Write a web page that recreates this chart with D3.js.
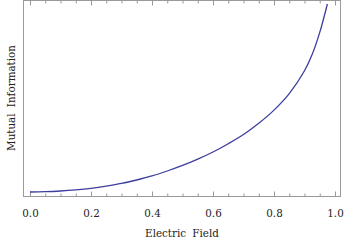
<!DOCTYPE html>
<html><head><meta charset="utf-8">
<script src="https://cdn.jsdelivr.net/npm/d3@7"></script>
<style>body{margin:0;background:#fff}svg{display:block}
text{font-stretch:condensed}</style>
</head><body>
<svg id="c" width="344" height="242"></svg>
<script>
const field = [0,0.05,0.1,0.15,0.2,0.25,0.3,0.35,0.4,0.45,0.5,0.55,0.6,0.65,0.7,0.75,0.8,0.85,0.9,0.925,0.95,0.975];
const mutualInfo = [0,0.005,0.017,0.036,0.062,0.098,0.142,0.2,0.267,0.35,0.442,0.548,0.667,0.805,0.958,1.145,1.365,1.64,2.02,2.29,2.66,3.133];
const xTicks = [0,0.2,0.4,0.6,0.8,1.0];
const xMinor = d3.range(0,1.0001,0.05);
const xLabel = "Electric Field";
const yLabel = "Mutual Information";

const svg = d3.select("#c");
const x = d3.scaleLinear().domain([0,1]).range([30,335]);
const y = d3.scaleLinear().domain([-0.0667,3.2]).range([196,0]);
const L=23.5,R=340.5,T=0.5,B=196.5;
const grey="#9a9a9a";
const FONT='"DejaVu Serif Condensed","DejaVu Serif",serif';

svg.append("rect").attr("x",L).attr("y",T).attr("width",R-L).attr("height",B-T)
  .attr("fill","none").attr("stroke",grey).attr("stroke-width",1);

function ticks(g){g.select(".domain").remove();g.selectAll("line").attr("stroke",grey);}
svg.append("g").attr("transform",`translate(0,${B})`)
  .call(d3.axisBottom(x).tickValues(xMinor).tickSize(-3).tickFormat("")).call(ticks);
svg.append("g").attr("transform",`translate(0,${B})`)
  .call(d3.axisBottom(x).tickValues(xTicks).tickSizeInner(-5).tickSizeOuter(0).tickPadding(12).tickFormat(d3.format(".1f")))
  .call(ticks)
  .call(g=>g.attr("font-family",FONT).selectAll("text").attr("font-family",FONT).attr("font-size",11.5).attr("fill","#222"));
svg.append("g").attr("transform",`translate(0,${T})`)
  .call(d3.axisTop(x).tickValues(xMinor).tickSize(-3).tickFormat("")).call(ticks);
svg.append("g").attr("transform",`translate(0,${T})`)
  .call(d3.axisTop(x).tickValues(xTicks).tickSize(-5).tickFormat("")).call(ticks);

const data = field.map((f,i)=>[f,mutualInfo[i]]);
svg.append("path").datum(data)
  .attr("fill","none").attr("stroke","#3d3d9e").attr("stroke-width",1.3)
  .attr("d",d3.line().x(d=>x(d[0])).y(d=>y(d[1])).curve(d3.curveCatmullRom.alpha(0.5)));

svg.append("text").attr("x",182).attr("y",237).attr("text-anchor","middle")
  .attr("font-family",FONT).attr("font-size",11.5).attr("fill","#222")
  .attr("word-spacing",3).text(xLabel);
svg.append("text").attr("transform","translate(15,98) rotate(-90)").attr("text-anchor","middle")
  .attr("font-family",FONT).attr("font-size",11.5).attr("fill","#222")
  .attr("word-spacing",3).text(yLabel);
</script>
</body></html>
